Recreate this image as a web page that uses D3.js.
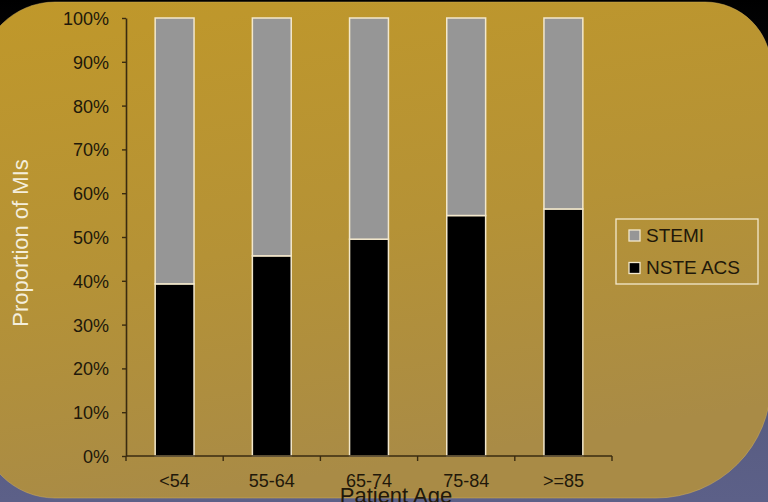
<!DOCTYPE html>
<html>
<head>
<meta charset="utf-8">
<script src="https://cdn.jsdelivr.net/npm/d3@7"></script>
<style>
  html, body { margin: 0; padding: 0; background: #000; }
  svg { display: block; }
  text { font-family: "Liberation Sans", Arial, Helvetica, sans-serif; }
</style>
</head>
<body>
<svg id="chart" width="768" height="502"></svg>
<script>
// Share of myocardial infarctions by patient age group
const categories = ["<54", "55-64", "65-74", "75-84", ">=85"];
const nsteAcs = [39.3, 45.7, 49.5, 54.9, 56.4];
const stemi = [60.7, 54.3, 50.5, 45.1, 43.6];
const seriesNames = ["STEMI", "NSTE ACS"];
const yTicks = [0, 10, 20, 30, 40, 50, 60, 70, 80, 90, 100];

const W = 768, H = 502;
const svg = d3.select("#chart");
const defs = svg.append("defs");

// Backdrop: dark at the top fading to slate blue
const bg = defs.append("linearGradient").attr("id", "bg").attr("x1", 0).attr("y1", 0).attr("x2", 0).attr("y2", 1);
bg.append("stop").attr("offset", "0%").attr("stop-color", "#000000");
bg.append("stop").attr("offset", "25%").attr("stop-color", "#0c0c12");
bg.append("stop").attr("offset", "85%").attr("stop-color", "#595d83");
bg.append("stop").attr("offset", "100%").attr("stop-color", "#5c6088");
svg.append("rect").attr("width", W).attr("height", H).attr("fill", "url(#bg)");

// Gold panel
const gold = defs.append("linearGradient").attr("id", "gold").attr("x1", 0).attr("y1", 0).attr("x2", 0.25).attr("y2", 1);
gold.append("stop").attr("offset", "0%").attr("stop-color", "#c0982a");
gold.append("stop").attr("offset", "55%").attr("stop-color", "#b59236");
gold.append("stop").attr("offset", "100%").attr("stop-color", "#a98b46");

function panelPath(x0, y0, x1, y1, rtl, rtr, rbr, rbl) {
  const p = d3.path();
  p.moveTo(x0 + rtl, y0);
  p.lineTo(x1 - rtr, y0);
  p.arcTo(x1, y0, x1, y0 + rtr, rtr);
  p.lineTo(x1, y1 - rbr);
  p.arcTo(x1, y1, x1 - rbr, y1, rbr);
  p.lineTo(x0 + rbl, y1);
  p.arcTo(x0, y1, x0, y1 - rbl, rbl);
  p.lineTo(x0, y0 + rtl);
  p.arcTo(x0, y0, x0 + rtl, y0, rtl);
  p.closePath();
  return p.toString();
}
svg.append("path")
  .attr("d", panelPath(-20, 2, 771, 498, 75, 66, 115, 75))
  .attr("fill", "url(#gold)")
  .attr("stroke", "#d4b25a").attr("stroke-width", 0.8).attr("stroke-opacity", 0.6);

// Scales
const plotLeft = 126, plotRight = 612, plotTop = 18, plotBottom = 456;
const x = d3.scaleBand().domain(categories).range([plotLeft, plotRight]).paddingInner(0.6).paddingOuter(0.3);
const y = d3.scaleLinear().domain([0, 100]).range([plotBottom, plotTop]);

const axisColor = "#3a2b10";
const textColor = "#21180a";

// Y axis
const yAxis = svg.append("g").attr("transform", `translate(${plotLeft},0)`)
  .call(d3.axisLeft(y).tickValues(yTicks).tickFormat(d => d + "%").tickSizeInner(4).tickSizeOuter(0).tickPadding(13));
yAxis.select(".domain").attr("stroke", axisColor).attr("stroke-width", 1.6);
yAxis.selectAll(".tick line").attr("stroke", axisColor).attr("stroke-width", 1.4);
yAxis.selectAll(".tick text").attr("fill", textColor).attr("font-size", 18).attr("dy", "0.36em");

// Stacked bars
const stackData = categories.map((c, i) => ({ cat: c, "NSTE ACS": nsteAcs[i], "STEMI": stemi[i] }));
const stack = d3.stack().keys(["NSTE ACS", "STEMI"]);
const layers = stack(stackData);
const colors = { "NSTE ACS": "#000000", "STEMI": "#969696" };

svg.append("g").selectAll("g").data(layers).join("g")
  .attr("fill", d => colors[d.key])
  .selectAll("rect").data(d => d).join("rect")
  .attr("x", d => x(d.data.cat))
  .attr("width", x.bandwidth())
  .attr("y", d => y(d[1]))
  .attr("height", d => y(d[0]) - y(d[1]))
  .attr("stroke", "#f3e8cc").attr("stroke-width", 1.5);

// X axis: labels centred under bars, ticks on category boundaries
const xAxis = svg.append("g").attr("transform", `translate(0,${plotBottom})`)
  .call(d3.axisBottom(x).tickSize(0).tickPadding(18));
xAxis.select(".domain").remove();
xAxis.selectAll(".tick text").attr("fill", textColor).attr("font-size", 18).attr("dy", "0.71em");
svg.append("line")
  .attr("x1", plotLeft).attr("x2", plotRight).attr("y1", plotBottom).attr("y2", plotBottom)
  .attr("stroke", axisColor).attr("stroke-width", 1.6);
const bounds = categories.map(c => x(c) + x.bandwidth() / 2 - x.step() / 2)
  .concat([x(categories[categories.length - 1]) + x.bandwidth() / 2 + x.step() / 2]);
svg.append("g").selectAll("line").data(bounds).join("line")
  .attr("x1", d => d).attr("x2", d => d)
  .attr("y1", plotBottom).attr("y2", plotBottom + 5)
  .attr("stroke", axisColor).attr("stroke-width", 1.4);

// Axis titles
svg.append("text")
  .attr("transform", "translate(28,243) rotate(-90)")
  .attr("text-anchor", "middle")
  .attr("fill", "#f4eedc")
  .attr("font-size", 22)
  .text("Proportion of MIs");

svg.append("text")
  .attr("x", (plotLeft + plotRight) / 2 + 27)
  .attr("y", 503)
  .attr("text-anchor", "middle")
  .attr("fill", textColor)
  .attr("font-size", 22)
  .text("Patient Age");

// Legend
const legend = svg.append("g").attr("transform", "translate(616,219)");
legend.append("rect").attr("width", 142).attr("height", 65)
  .attr("fill", "none").attr("stroke", "#f3e8cc").attr("stroke-width", 1.3);
seriesNames.forEach((name, i) => {
  const g = legend.append("g").attr("transform", `translate(13,${11 + i * 32.5})`);
  g.append("rect").attr("width", 11).attr("height", 11)
    .attr("fill", colors[name]).attr("stroke", "#f3e8cc").attr("stroke-width", 1.3);
  g.append("text").attr("x", 17).attr("y", 11.5)
    .attr("fill", textColor).attr("font-size", 19).text(name);
});
</script>
</body>
</html>
